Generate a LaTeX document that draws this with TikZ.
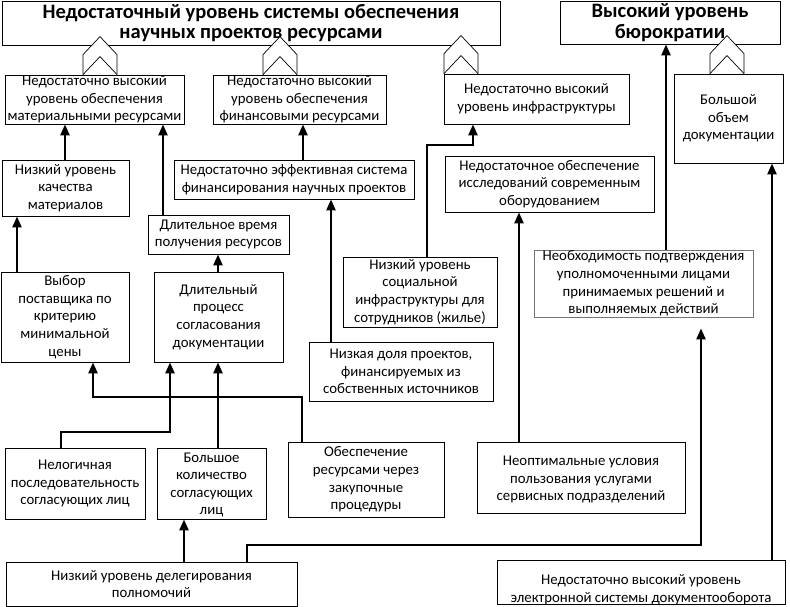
\documentclass[tikz,border=0pt]{standalone}
\usepackage{fontspec}
\setmainfont{Carlito}
\usetikzlibrary{arrows.meta}
\newcommand\mybox[7][]{%
  \node[box, minimum width={#5-#3}, minimum height={#6-#4},
        label={[txt,#1]center:{#7}}] (#2) at ({(#3+#5)/2},{(#4+#6)/2}) {};}
\begin{document}
\begin{tikzpicture}[x=1pt,y=-1pt,
  box/.style={draw, line width=0.8pt, inner sep=0pt},
  txt/.style={font=\fontsize{14.8}{17.6}\selectfont, align=center, inner sep=0pt},
  ttl/.style={font=\fontsize{20.5}{20.5}\selectfont\bfseries, align=center, inner sep=0pt},
  conn/.style={line width=2.4pt, -{Triangle[width=9pt,length=11pt]}},
  dchev/.pic={
    \fill[white] (-17,-0.5) -- (-17,-20) -- (0,-38) -- (17,-20) -- (17,-0.5) -- cycle;
    \draw[line width=0.7pt] (-17,0) -- (-17,-20) -- (0,-38) -- (17,-20) -- (17,0);
    \draw[line width=0.7pt] (-17,0) -- (0,-18) -- (17,0);
  }
]
\useasboundingbox[fill=white] (0,0) rectangle (790,607);

% top level
\mybox[ttl]{T1}{2}{1}{500}{45}{Недостаточный уровень системы обеспечения\\научных проектов ресурсами}
\mybox[ttl]{T2}{560}{1}{780}{44}{Высокий уровень\\бюрократии}

% second level
\mybox{A}{5}{75}{184}{124}{Недостаточно высокий\\уровень обеспечения\\материальными ресурсами}
\mybox{B}{213}{75}{386}{124}{Недостаточно высокий\\уровень обеспечения\\финансовыми ресурсами}
\mybox{C}{444}{74}{629}{124}{Недостаточно высокий\\уровень инфраструктуры}
\mybox{D}{674}{74}{783}{163}{Большой\\объем\\документации}

% chevrons
\pic at (A.north -| 100,0) {dchev};
\pic at (B.north -| 280,0) {dchev};
\pic at (C.north -| 461,0) {dchev};
\pic at (D.north -| 727,0) {dchev};

% third level
\mybox{E}{2}{160}{129}{216}{Низкий уровень\\качества\\материалов}
\mybox{F}{148}{215}{289}{254}{Длительное время\\получения ресурсов}
\mybox{G}{174}{160}{414}{199}{Недостаточно эффективная система\\финансирования научных проектов}
\mybox{H}{445}{156}{654}{212}{Недостаточное обеспечение\\исследований современным\\оборудованием}
\node[box, draw=black!55, minimum width=219pt, minimum height=67pt,
      label={[txt]center:{Необходимость подтверждения\\уполномоченными лицами\\принимаемых решений и\\выполняемых действий}}]
      (I) at (643.5,283.5) {};
\mybox{J}{343}{257}{497}{327}{Низкий уровень\\социальной\\инфраструктуры для\\сотрудников (жилье)}
\mybox{K}{309}{342}{493}{401}{Низкая доля проектов,\\финансируемых из\\собственных источников}
\mybox{L}{1}{272}{129}{362}{Выбор\\поставщика по\\критерию\\минимальной\\цены}
\mybox{M}{154}{272}{283}{362}{Длительный\\процесс\\согласования\\документации}

% lower level
\mybox{N}{5}{448}{145}{519}{Нелогичная\\последовательность\\согласующих лиц}
\mybox[yshift=-1.5pt]{O}{157}{448}{266}{519}{Большое\\количество\\согласующих\\лиц}
\mybox{P}{288}{442}{444}{517}{Обеспечение\\ресурсами через\\закупочные\\процедуры}
\mybox[yshift=-2pt]{Q}{477}{442}{685}{513}{Неоптимальные условия\\пользования услугами\\сервисных подразделений}
\mybox{R}{6}{562}{297}{606}{Низкий уровень делегирования\\полномочий}
\mybox[yshift=-8pt]{S}{497}{560}{785}{604}{Недостаточно высокий уровень\\электронной системы документооборота}

% connectors
\draw[conn] (L.north -| 17,0) -- (E.south -| 17,0);
\draw[conn] (E.north -| 65,0) -- (A.south -| 65,0);
\draw[conn] (M.north -| 218,0) -- (F.south -| 218,0);
\draw[conn] (F.north -| 163,0) -- (A.south -| 163,0);
\draw[conn] (K.north -| 331,0) -- (G.south -| 331,0);
\draw[conn] (G.north -| 303,0) -- (B.south -| 303,0);
\draw[conn] (J.north -| 427,0) |- (473,145) -- (C.south -| 473,0);
\draw[conn] (Q.north -| 519,0) -- (H.south -| 519,0);
\draw[conn] (I.north -| 666,0) -- (T2.south -| 666,0);
\draw[conn] (S.north -| 772,0) -- (D.south -| 772,0);
\draw[conn] (R.north -| 184,0) -- (O.south -| 184,0);
\draw[conn, shorten >=11pt] (R.north -| 247,0) |- (701,545) -- (I.south -| 701,0);
\draw[conn] (N.north -| 61,0) |- (170,432) -- (M.south -| 170,0);
\draw[conn] (O.north -| 218,0) -- (M.south -| 218,0);
\draw[conn] (P.north -| 302,0) |- (93,397) -- (L.south -| 93,0);
\end{tikzpicture}
\end{document}
